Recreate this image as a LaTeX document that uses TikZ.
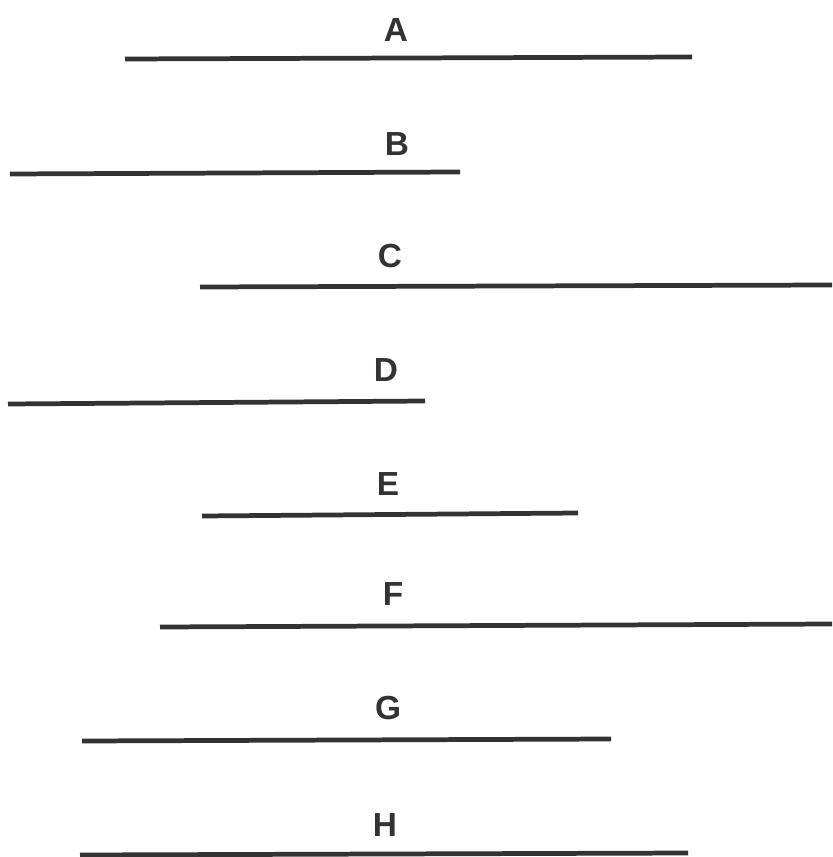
\documentclass[tikz,border=0pt]{standalone}
\usepackage{fontspec}
\setsansfont{Liberation Sans}
\definecolor{ink}{HTML}{333333}
\begin{document}
\begin{tikzpicture}[x=0.02cm, y=-0.02cm, font=\sffamily\bfseries\fontsize{19}{22}\selectfont,
      bar/.style={draw=ink, line width=2.7pt},
      letter/.style={text=ink, inner sep=0pt}]
    \useasboundingbox (0,0) rectangle (832,857);
    % bars, top to bottom
    \coordinate (a1) at (125,59);  \coordinate (a2) at (692,57);
    \coordinate (b1) at (10,174);  \coordinate (b2) at (460,172);
    \coordinate (c1) at (200,287); \coordinate (c2) at (832,285);
    \coordinate (d1) at (8,404);   \coordinate (d2) at (425,401);
    \coordinate (e1) at (202,516); \coordinate (e2) at (578,513);
    \coordinate (f1) at (160,627); \coordinate (f2) at (832,624);
    \coordinate (g1) at (82,741);  \coordinate (g2) at (611,739);
    \coordinate (h1) at (80,855);  \coordinate (h2) at (688,853);
    \draw[bar] (a1) -- (a2);
    \draw[bar] (b1) -- (b2);
    \draw[bar] (c1) -- (c2);
    \draw[bar] (d1) -- (d2);
    \draw[bar] (e1) -- (e2);
    \draw[bar] (f1) -- (f2);
    \draw[bar] (g1) -- (g2);
    \draw[bar] (h1) -- (h2);
    % letters
    \node[letter] (la) at (396,30) {A};
    \node[letter] (lb) at (397,144) {B};
    \node[letter] (lc) at (390,256) {C};
    \node[letter] (ld) at (386,370) {D};
    \node[letter] (le) at (388,484) {E};
    \node[letter] (lf) at (393,594) {F};
    \node[letter] (lg) at (388,708) {G};
    \node[letter] (lh) at (385,825) {H};
  \end{tikzpicture}
\end{document}
